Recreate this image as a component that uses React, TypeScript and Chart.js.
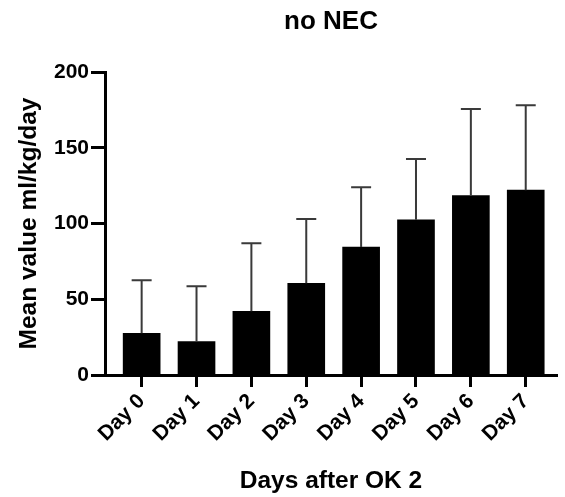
import React, { useEffect, useRef } from "react";
import { Chart, registerables } from "chart.js";

Chart.register(...registerables);

const days = ["Day 0", "Day 1", "Day 2", "Day 3", "Day 4", "Day 5", "Day 6", "Day 7"];
const means = [27.5, 22, 42, 60.5, 84.5, 102.5, 118.5, 122];
const sds = [35, 36.5, 45, 42.5, 39.5, 40, 57, 56];
const yTicks = [0, 50, 100, 150, 200];

const FONT = "'Liberation Sans', Arial, sans-serif";

const errorBarPlugin = {
  id: "errorBars",
  afterDatasetsDraw(chart: any) {
    const meta = chart.getDatasetMeta(0);
    const ys = chart.scales.y;
    const ctx = chart.ctx;
    ctx.save();
    ctx.strokeStyle = "#3a3a3a";
    ctx.lineWidth = 2;
    meta.data.forEach((bar: any, i: number) => {
      const x = bar.x;
      const yTop = ys.getPixelForValue(means[i]);
      const yUp = ys.getPixelForValue(means[i] + sds[i]);
      ctx.beginPath();
      ctx.moveTo(x, yTop);
      ctx.lineTo(x, yUp);
      ctx.moveTo(x - 10, yUp);
      ctx.lineTo(x + 10, yUp);
      ctx.stroke();
    });
    ctx.restore();
  },
};

export default function App() {
  const ref = useRef<HTMLCanvasElement | null>(null);
  useEffect(() => {
    document.body.style.margin = "0";
    const canvas = ref.current;
    if (!canvas) return;
    const chart = new Chart(canvas, {
      type: "bar",
      data: {
        datasets: [
          {
            data: means.map((m, i) => ({ x: i, y: m })),
            backgroundColor: "#000000",
            borderWidth: 0,
            barThickness: 37,
          },
        ],
      },
      options: {
        responsive: false,
        animation: false,
        layout: { padding: { left: 0, right: 8, top: 0, bottom: 0 } },
        plugins: {
          legend: { display: false },
          tooltip: { enabled: false },
          title: {
            display: true,
            text: "no NEC",
            color: "#000",
            fullSize: false,
            font: { family: FONT, size: 26, weight: "bold" },
            padding: { top: 6, bottom: 34.8 },
          },
        },
        scales: {
          x: {
            type: "linear",
            offset: false,
            min: -0.668,
            max: 7.57,
            afterBuildTicks: (scale: any) => {
              scale.ticks = days.map((_, i) => ({ value: i }));
            },
            afterFit: (scale: any) => {
              scale.height = 122;
            },
            ticks: {
              autoSkip: false,
              minRotation: 45,
              maxRotation: 45,
              color: "#000",
              padding: 2,
              font: { family: FONT, size: 21, weight: "bold" },
              callback: (v: any) => days[v as number] ?? "",
            },
            grid: {
              display: true,
              offset: false,
              drawOnChartArea: false,
              drawTicks: true,
              tickLength: 12,
              tickWidth: 3,
              tickColor: "#000",
            },
            border: { display: true, color: "#000", width: 3 },
            title: {
              display: true,
              text: "Days after OK 2",
              color: "#000",
              font: { family: FONT, size: 24.5, weight: "bold" },
              padding: { top: 0, bottom: 1 },
            },
          },
          y: {
            min: 0,
            max: 200,
            afterBuildTicks: (scale: any) => {
              scale.ticks = yTicks.map((v) => ({ value: v }));
            },
            afterFit: (scale: any) => {
              scale.width = 105;
            },
            ticks: {
              color: "#000",
              padding: 2,
              font: { family: FONT, size: 21, weight: "bold" },
            },
            grid: {
              display: true,
              drawOnChartArea: false,
              drawTicks: true,
              tickLength: 14,
              tickWidth: 3,
              tickColor: "#000",
            },
            border: { display: true, color: "#000", width: 3 },
            title: {
              display: true,
              text: "Mean value ml/kg/day",
              color: "#000",
              font: { family: FONT, size: 24.5, weight: "bold" },
              padding: { top: 15, bottom: 0 },
            },
          },
        },
      },
      plugins: [errorBarPlugin],
    } as any);
    return () => chart.destroy();
  }, []);
  return (
    <div style={{ width: 565, height: 497 }}>
      <canvas ref={ref} width={565} height={497} />
    </div>
  );
}
